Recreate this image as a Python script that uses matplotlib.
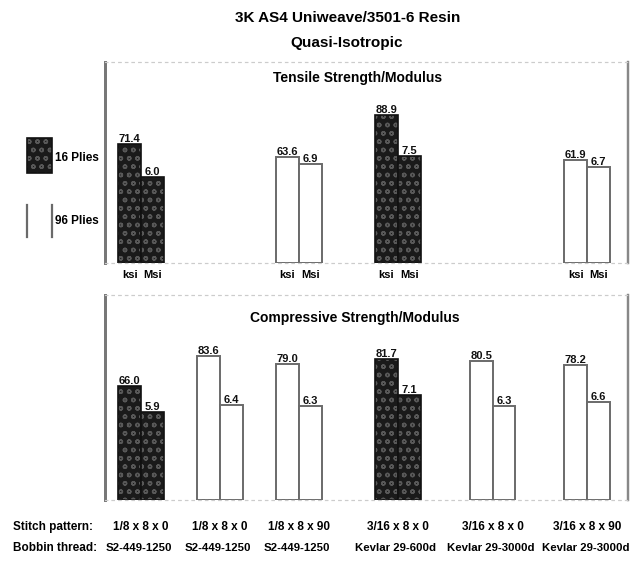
import matplotlib
matplotlib.use("Agg")
import matplotlib.pyplot as plt
from matplotlib.patches import Rectangle
from matplotlib.lines import Line2D
import numpy as np

# --- data ---
stitch = ["1/8 x 8 x 0", "1/8 x 8 x 0", "1/8 x 8 x 90",
          "3/16 x 8 x 0", "3/16 x 8 x 0", "3/16 x 8 x 90"]
bobbin = ["S2-449-1250", "S2-449-1250", "S2-449-1250",
          "Kevlar 29-600d", "Kevlar 29-3000d", "Kevlar 29-3000d"]
plies = [16, 96, 96, 16, 96, 96]
tens_ksi = [71.4, None, 63.6, 88.9, None, 61.9]
tens_msi = [6.0, None, 6.9, 7.5, None, 6.7]
comp_ksi = [66.0, 83.6, 79.0, 81.7, 80.5, 78.2]
comp_msi = [5.9, 6.4, 6.3, 7.1, 6.3, 6.6]

W, H = 636, 565
plt.rcParams["font.family"] = ["Liberation Sans", "DejaVu Sans"]
plt.rcParams["font.weight"] = "bold"

fig = plt.figure(figsize=(W / 100, H / 100), dpi=100)

slot = np.array([0, 1, 2, 3.25, 4.45, 5.65])   # column layout
bw = 0.29
xlim = (-0.456, 6.165)


def px(x, y):
    return x / W, 1 - y / H


def dark_bar(a, x, v):
    a.bar(x, v, bw, color="#1a1a1a", hatch="oo",
          edgecolor="#585858", linewidth=0)
    a.bar(x, v, bw, fill=False, edgecolor="#111111", linewidth=1.2)


def draw_panel(ax, ksi, msi, ytop_ksi, ytop_msi, tick_labels):
    ax2 = ax.twinx()
    ax.set_xlim(*xlim)
    ax.set_ylim(0, ytop_ksi)
    ax2.set_ylim(0, ytop_msi)
    for i in range(len(slot)):
        if ksi[i] is None:
            continue
        for a, v, off, name in ((ax, ksi[i], -bw / 2, "ksi"),
                                (ax2, msi[i], bw / 2, "Msi")):
            if plies[i] == 16:
                dark_bar(a, slot[i] + off, v)
            else:
                a.bar(slot[i] + off, v, bw, color="white",
                      edgecolor="#6a6a6a", linewidth=1.4)
            a.text(slot[i] + off, v, f"{v:.1f}", ha="center", va="bottom",
                   fontsize=8, color="#111111")
            if tick_labels:
                ax.text(slot[i] + off, -0.035, name,
                        transform=ax.get_xaxis_transform(), ha="center",
                        va="top", fontsize=8)
    for a in (ax, ax2):
        a.set_xticks([])
        a.set_yticks([])
        a.spines["left"].set_color("#777777")
        a.spines["left"].set_linewidth(2)
        a.spines["right"].set_color("#888888")
        a.spines["right"].set_linewidth(1.6)
        for s in ("top", "bottom"):
            a.spines[s].set_color("#cccccc")
            a.spines[s].set_linestyle((0, (2, 4)))


left, width = 105 / W, 523 / W
ax_t = fig.add_axes([left, 1 - 263 / H, width, 201 / H])
ax_b = fig.add_axes([left, 1 - 500 / H, width, 205 / H])

draw_panel(ax_t, tens_ksi, tens_msi, 120.4, 14.06, True)
draw_panel(ax_b, comp_ksi, comp_msi, 119, 13.8, False)

fig.text(*px(358, 78), "Tensile Strength/Modulus", ha="center",
         va="center", fontsize=10)
fig.text(*px(355, 318), "Compressive Strength/Modulus", ha="center",
         va="center", fontsize=10)
fig.text(*px(348, 18), "3K AS4 Uniweave/3501-6 Resin", ha="center",
         va="center", fontsize=11)
fig.text(*px(347, 43), "Quasi-Isotropic", ha="center", va="center",
         fontsize=11)

# legend swatches
x0, y0 = px(27, 173)
fig.add_artist(Rectangle((x0, y0), 25 / W, 35 / H, transform=fig.transFigure,
                         facecolor="#1a1a1a", hatch="oo",
                         edgecolor="#585858", linewidth=0))
fig.add_artist(Rectangle((x0, y0), 25 / W, 35 / H, transform=fig.transFigure,
                         fill=False, edgecolor="#111111", linewidth=1.2))
fig.text(*px(55, 158), "16 Plies", ha="left", va="center", fontsize=8.5)
for xx in (27, 52):
    fig.add_artist(Line2D([xx / W, xx / W], [1 - 237 / H, 1 - 205 / H],
                          transform=fig.transFigure, color="#6a6a6a",
                          linewidth=1.6))
fig.text(*px(55, 221), "96 Plies", ha="left", va="center", fontsize=8.5)

# category labels under the bottom panel
fig.text(*px(13, 527), "Stitch pattern:", ha="left", va="center", fontsize=8.5)
fig.text(*px(13, 548), "Bobbin thread:", ha="left", va="center", fontsize=8.5)
for i in range(len(slot)):
    xd = ax_b.transData.transform((slot[i], 0))[0]
    xf = fig.transFigure.inverted().transform((xd, 0))[0]
    fig.text(xf, 1 - 527 / H, stitch[i], ha="center", va="center", fontsize=8.5)
    fig.text(xf - 2 / W, 1 - 548 / H, bobbin[i], ha="center", va="center",
             fontsize=8.2)

fig.savefig("out.png", dpi=100)
